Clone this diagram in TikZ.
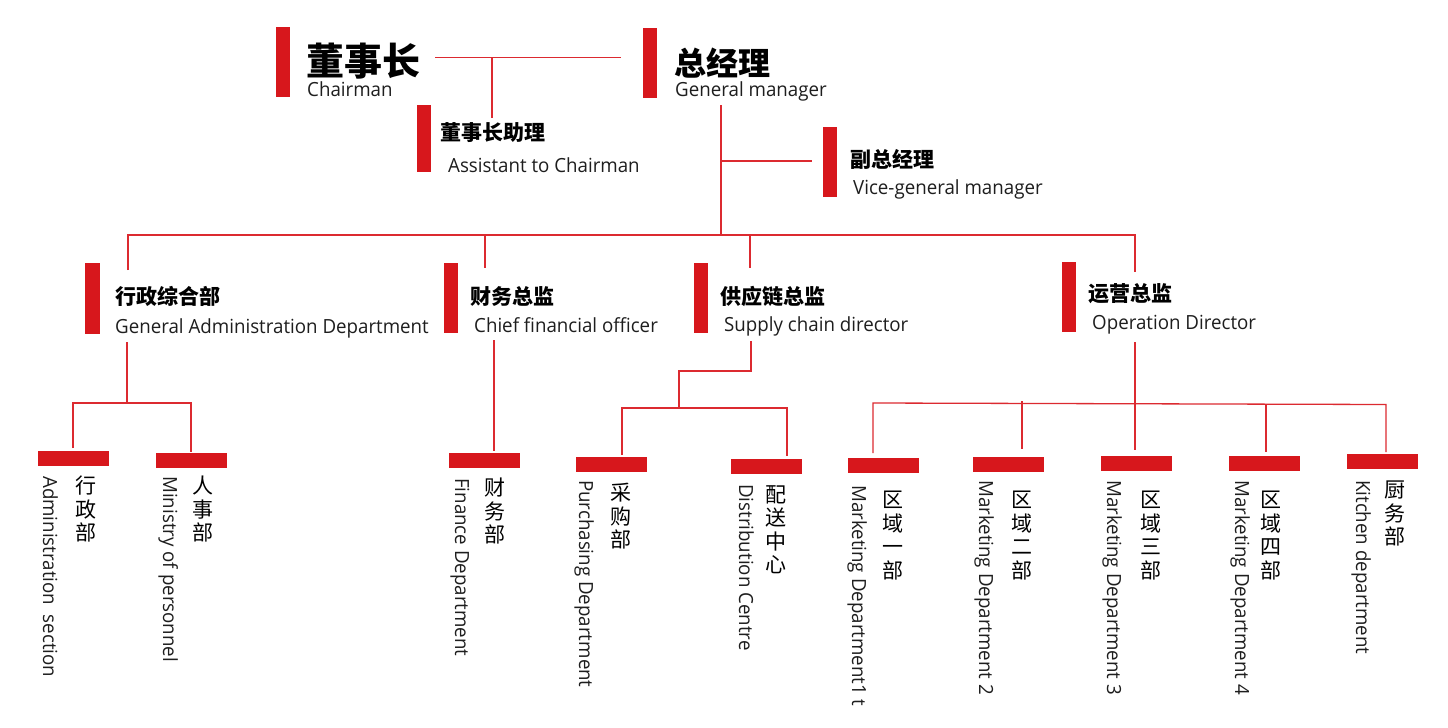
\documentclass[tikz,border=0pt]{standalone}
\usepackage{fontspec}
\newfontfamily\cjk{Noto Sans CJK SC}
\newfontfamily\en{Open Sans}[FakeStretch=0.96]
\definecolor{cred}{HTML}{D7171C}
\definecolor{lred}{HTML}{DC2A30}
\definecolor{txt}{HTML}{1E1E1E}
\tikzset{
  vbar/.style={fill=cred, draw=none, inner sep=0, minimum width=14, minimum height=70, anchor=north west},
  hbar/.style={fill=cred, draw=none, inner sep=0, minimum width=71, minimum height=15, anchor=north west},
  conn/.style={draw=lred, line width=1.3pt},
  zhbig/.style={inner sep=0, anchor=base west, text=black, font=\cjk\bfseries\fontsize{#1}{#1}\selectfont},
  zhhead/.style={inner sep=0, anchor=base west, text=black, font=\cjk\bfseries\fontsize{21}{24}\selectfont},
  entxt/.style={inner sep=0, anchor=base west, text=txt, font=\en\fontsize{19.5}{22}\selectfont},
  envert/.style={inner sep=0, anchor=base west, rotate=-90, text=txt, font=\en\fontsize{19.5}{22}\selectfont},
  zhvert/.style={inner sep=0, anchor=north, align=center, text=black, font=\cjk\fontsize{21}{23.5}\selectfont},
}
\begin{document}
\begin{tikzpicture}[x=1pt,y=-1pt]
\useasboundingbox (0,0) rectangle (1448,728);
\fill[white] (0,0) rectangle (1448,728);

% ---- top level
\node[vbar] (bch) at (276,27) {};
\node[zhbig=38] (tch) at (306,75.5) {董事长};
\node[entxt] (ech) at (307,96) {Chairman};

\node[vbar] (bgm) at (643,28) {};
\node[zhbig=32] (tgm) at (674,75.5) {总经理};
\node[entxt] (egm) at (675,96) {General manager};

\node[vbar, minimum height=67] (bas) at (417,105) {};
\node[zhhead] (tas) at (440,140.5) {董事长助理};
\node[entxt] (eas) at (448,172) {Assistant to Chairman};

\node[vbar] (bvi) at (823,127) {};
\node[zhhead] (tvi) at (850,167.5) {副总经理};
\node[entxt] (evi) at (853,194) {Vice-general manager};

% ---- second level
\node[vbar, minimum width=15, minimum height=71] (bad) at (85,263) {};
\node[zhhead] (tad) at (115,304.5) {行政综合部};
\node[entxt] (ead) at (115,333) {General Administration Department};

\node[vbar] (bfi) at (444,263) {};
\node[zhhead] (tfi) at (470,304.5) {财务总监};
\node[entxt] (efi) at (474,332) {Chief financial officer};

\node[vbar] (bsu) at (694,263) {};
\node[zhhead] (tsu) at (720,304.5) {供应链总监};
\node[entxt] (esu) at (724,331) {Supply chain director};

\node[vbar] (bop) at (1062,262) {};
\node[zhhead] (top) at (1088,301.5) {运营总监};
\node[entxt] (eop) at (1092,329) {Operation Director};

% ---- third level bars
\node[hbar] (h1) at (38,451) {};
\node[hbar] (h2) at (156,453) {};
\node[hbar] (h3) at (449,453) {};
\node[hbar] (h4) at (576,457) {};
\node[hbar] (h5) at (731,459) {};
\node[hbar] (h6) at (848,458) {};
\node[hbar] (h7) at (973,457) {};
\node[hbar] (h8) at (1101,456) {};
\node[hbar] (h9) at (1229,456) {};
\node[hbar] (h10) at (1347,454) {};

% ---- third level texts
\node[zhvert] (z1) at (86,476) {行\\政\\部};
\node[envert] (v1) at (43,476) {Administration\ \ section};
\node[zhvert] (z2) at (203,476) {人\\事\\部};
\node[envert] (v2) at (163,476) {Ministry of personnel};
\node[zhvert] (z3) at (495,478) {财\\务\\部};
\node[envert] (v3) at (455,478) {Finance Department};
\node[zhvert] (z4) at (621,483) {采\\购\\部};
\node[envert] (v4) at (579,480) {Purchasing Department};
\node[zhvert] (z5) at (776,485) {配\\送\\中\\心};
\node[envert] (v5) at (739,484) {Distribution Centre};
\node[zhvert] (z6) at (893,491) {区\\域\\一\\部};
\node[envert] (v6) at (852,485) {Marketing Department1 t};
\node[zhvert] (z7) at (1022,491) {区\\域\\二\\部};
\node[envert] (v7) at (979,480) {Marketing Department 2};
\node[zhvert] (z8) at (1151,491) {区\\域\\三\\部};
\node[envert] (v8) at (1107,480) {Marketing Department 3};
\node[zhvert] (z9) at (1271,491) {区\\域\\四\\部};
\node[envert] (v9) at (1235,480) {Marketing Department 4};
\node[zhvert] (z10) at (1395,481) {厨\\务\\部};
\node[envert] (v10) at (1356,480) {Kitchen department};

% ---- connector points
\coordinate (a1) at (435,57.5);
\coordinate (a2) at (621,57.5);
\coordinate (a3) at (492,57.5);
\coordinate (a4) at (492,118);
\coordinate (g1) at (721,105);
\coordinate (g2) at (721,235);
\coordinate (g3) at (721,161);
\coordinate (g4) at (812,161);
\coordinate (m1) at (128,235);
\coordinate (m2) at (1135,235);
\coordinate (m1d) at (128,270);
\coordinate (m2u) at (485,235);
\coordinate (m2d) at (485,268);
\coordinate (m3u) at (750,235);
\coordinate (m3d) at (750,268);
\coordinate (m4d) at (1135,272);

\coordinate (p1) at (127,342);
\coordinate (p2) at (127,403);
\coordinate (p3) at (73,403);
\coordinate (p4) at (191,403);
\coordinate (p5) at (73,448);
\coordinate (p6) at (191,452);

\coordinate (f1) at (494,340);
\coordinate (f2) at (494,451);

\coordinate (s1) at (751,341);
\coordinate (s2) at (751,371);
\coordinate (s3) at (679,371);
\coordinate (s4) at (679,408);
\coordinate (s5) at (622,408);
\coordinate (s6) at (787,408);
\coordinate (s7) at (622,455);
\coordinate (s8) at (787,456);

\coordinate (o1) at (1135,342);
\coordinate (o2) at (1135,450);
\coordinate (o3) at (873,403);
\coordinate (o4) at (1386,404.5);
\coordinate (o5) at (873,453);
\coordinate (o6) at (1386,452);
\coordinate (o7) at (1022,401);
\coordinate (o8) at (1022,449);
\coordinate (o9) at (1266,404);
\coordinate (o10) at (1266,452);

% ---- connectors
\draw[conn] (a1) -- (a2);
\draw[conn] (a3) -- (a4);
\draw[conn] (g1) -- (g2);
\draw[conn] (g3) -- (g4);
\draw[conn] (m1d) -- (m1) -- (m2) -- (m4d);
\draw[conn] (m2u) -- (m2d);
\draw[conn] (m3u) -- (m3d);
\draw[conn] (p1) -- (p2);
\draw[conn] (p5) -- (p3) -- (p4) -- (p6);
\draw[conn] (f1) -- (f2);
\draw[conn] (s1) -- (s2) -- (s3) -- (s4);
\draw[conn] (s7) -- (s5) -- (s6) -- (s8);
\draw[conn] (o1) -- (o2);
\draw[conn] (o5) -- (o3) -- (o4) -- (o6);
\draw[conn] (o7) -- (o8);
\draw[conn] (o9) -- (o10);
\end{tikzpicture}
\end{document}
